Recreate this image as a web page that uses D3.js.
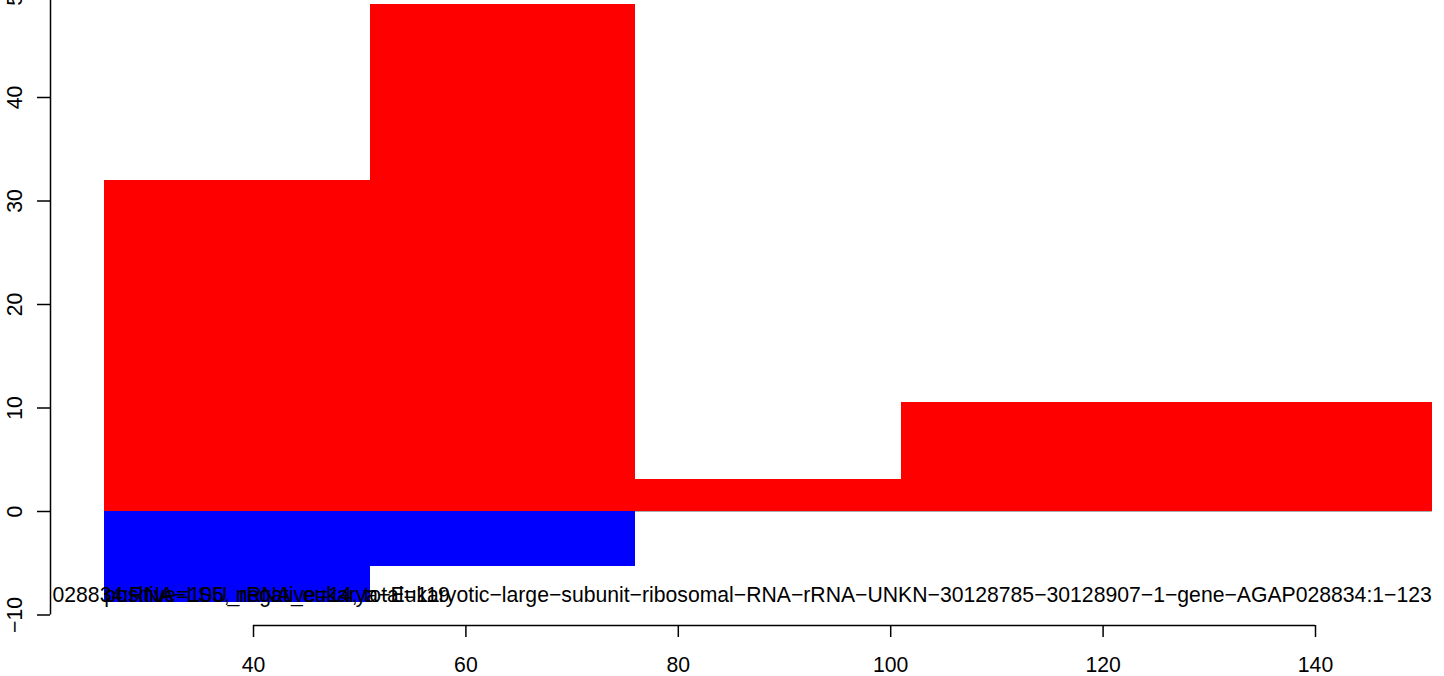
<!DOCTYPE html>
<html><head><meta charset="utf-8">
<script src="https://cdn.jsdelivr.net/npm/d3@7"></script>
<style>body{margin:0;background:#fff}svg{display:block}text{font-family:"Liberation Sans",Arial,sans-serif}</style>
</head><body>
<script>
const binStart = [26, 51, 76, 101];
const binEnd = [51, 76, 101, 151];
const positiveVals = [32, 49, 3.1, 10.5];
const negativeVals = [-8.75, -5.3, 0, 0];
const xTicks = [40, 60, 80, 100, 120, 140];
const yTicks = [-10, 0, 10, 20, 30, 40, 50];
const labelName = "028834:RNA−LSU_rRNA_eukarya−Eukaryotic−large−subunit−ribosomal−RNA−rRNA−UNKN−30128785−30128907−1−gene−AGAP028834:1−123";
const labelCounts = "positive=105, negative=14, total=119";

const W = 1444, H = 676;
const FS = 21.2;
const svg = d3.select("body").append("svg").attr("width", W).attr("height", H);
const x = d3.scaleLinear().domain([40, 140]).range([253, 1315]);
const y = d3.scaleLinear().domain([0, 40]).range([511, 97]);

const data = binStart.map((s, i) => ({s, e: binEnd[i], p: positiveVals[i], n: negativeVals[i]}));

svg.append("line").attr("x1", x(binStart[0])).attr("x2", x(binEnd[binEnd.length-1]))
  .attr("y1", y(0)+0.5).attr("y2", y(0)+0.5).attr("stroke", "#aaaaaa").attr("stroke-width", 1);

svg.selectAll("rect.pos").data(data).join("rect").attr("class", "pos")
  .attr("x", d => x(d.s)).attr("width", d => x(d.e) - x(d.s))
  .attr("y", d => y(d.p)).attr("height", d => y(0) - y(d.p))
  .attr("fill", "#ff0000").attr("shape-rendering", "crispEdges");
svg.selectAll("rect.neg").data(data.filter(d => d.n < 0)).join("rect").attr("class", "neg")
  .attr("x", d => x(d.s)).attr("width", d => x(d.e) - x(d.s))
  .attr("y", y(0)).attr("height", d => y(d.n) - y(0))
  .attr("fill", "#0000ff").attr("shape-rendering", "crispEdges");

// y axis
const yAxis = d3.axisLeft(y).tickValues(yTicks).tickSize(13).tickPadding(6);
const gy = svg.append("g").attr("transform", "translate(50,0)").call(yAxis);
gy.select(".domain").attr("d", `M0.5,${y(-10)}V${y(50)}`).attr("stroke", "#000").attr("stroke-width", 1.5);
gy.selectAll(".tick line").attr("stroke", "#000").attr("stroke-width", 1.5);
gy.selectAll(".tick text").attr("font-size", FS).attr("fill", "#000")
  .attr("text-anchor", "middle").attr("dy", 0)
  .attr("transform", "translate(-36,0) rotate(-90)").attr("x", 0).attr("y", 7.5)
  .text(d => d < 0 ? "−" + Math.abs(d) : d);

// x axis
const xAxis = d3.axisBottom(x).tickValues(xTicks).tickSize(12).tickPadding(20);
const gx = svg.append("g").attr("transform", "translate(0,625)").call(xAxis);
gx.select(".domain").attr("d", `M${x(40)},0.5H${x(140)}`).attr("stroke", "#000").attr("stroke-width", 1.5);
gx.selectAll(".tick line").attr("stroke", "#000").attr("stroke-width", 1.5);
gx.selectAll(".tick text").attr("font-size", FS).attr("fill", "#000").attr("dy", 0).attr("y", 47);

// overlapping labels
svg.append("text").attr("x", x(binEnd[binEnd.length-1])).attr("y", 602)
  .attr("text-anchor", "end").attr("font-size", FS).attr("fill", "#000").text(labelName);
svg.append("text").attr("x", x(binStart[0])).attr("y", 602)
  .attr("text-anchor", "start").attr("font-size", FS).attr("fill", "#000").text(labelCounts);
</script>
</body></html>
